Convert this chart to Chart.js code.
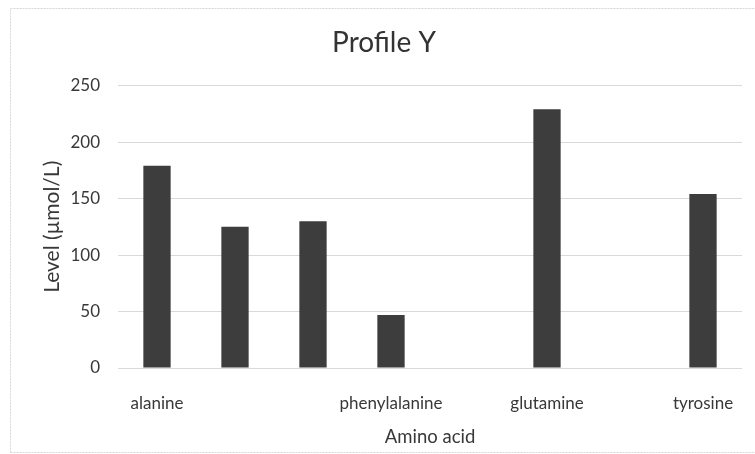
<!DOCTYPE html>
<html>
<head>
<meta charset="utf-8">
<title>Profile Y</title>
<script src="https://cdn.jsdelivr.net/npm/chart.js@4/dist/chart.umd.min.js"></script>
<style>
  html, body { margin: 0; padding: 0; background: #fff; }
  #wrap { position: relative; width: 755px; height: 454px; }
</style>
</head>
<body>
<div id="wrap"><canvas id="profileChart" width="755" height="454"></canvas></div>
<script>
// amino acid levels, blank slots have no label
const aminoAcids = ['alanine', '', '', 'phenylalanine', '', 'glutamine', '', 'tyrosine'];
const levels = [179, 125, 130, 47, null, 229, null, 154];
const yTicks = [0, 50, 100, 150, 200, 250];

const FONT = 'Lato, "Open Sans", sans-serif';

// thin light frame around the whole chart
const chartFrame = {
    id: 'chartFrame',
    beforeDraw: function (chart) {
        const ctx = chart.ctx;
        ctx.save();
        ctx.fillStyle = '#fff';
        ctx.fillRect(0, 0, chart.width, chart.height);
        ctx.strokeStyle = '#d6d6d6';
        ctx.lineWidth = 1;
        ctx.setLineDash([2, 1]);
        ctx.beginPath();
        ctx.moveTo(10.5, chart.height - 1.5);
        ctx.lineTo(10.5, 8.5);
        ctx.lineTo(chart.width, 8.5);
        ctx.moveTo(10.5, chart.height - 1.5);
        ctx.lineTo(chart.width, chart.height - 1.5);
        ctx.stroke();
        ctx.restore();
    }
};

new Chart(document.getElementById('profileChart'), {
    type: 'bar',
    data: {
        labels: aminoAcids,
        datasets: [{
            label: 'Level',
            data: levels,
            backgroundColor: '#3d3d3d',
            borderWidth: 0,
            barPercentage: 0.35,
            categoryPercentage: 1
        }]
    },
    options: {
        responsive: false,
        animation: false,
        devicePixelRatio: 1,
        layout: { padding: { left: 26, right: 13, top: 0, bottom: 6 } },
        plugins: {
            legend: { display: false },
            tooltip: { enabled: false },
            title: {
                display: true,
                text: 'Profile Y',
                color: '#333',
                font: { family: FONT, size: 28, weight: 'normal' },
                padding: { top: 26, bottom: 26 }
            }
        },
        scales: {
            x: {
                grid: { display: false },
                border: { display: false },
                ticks: {
                    color: '#383838',
                    font: { family: FONT, size: 17 },
                    maxRotation: 0,
                    autoSkip: false,
                    padding: 17
                },
                title: {
                    display: true,
                    text: 'Amino acid',
                    color: '#383838',
                    font: { family: FONT, size: 18.5 },
                    padding: 0
                },
                afterFit: function (scale) { scale.height = 80; }
            },
            y: {
                min: 0,
                max: 250,
                afterBuildTicks: function (scale) {
                    scale.ticks = yTicks.map(v => ({ value: v }));
                },
                grid: { color: '#d9d9d9', lineWidth: 1, drawTicks: false },
                border: { display: false },
                ticks: {
                    color: '#383838',
                    font: { family: FONT, size: 17 },
                    padding: 18
                },
                title: {
                    display: true,
                    text: 'Level (\u00b5mol/L)',
                    color: '#383838',
                    font: { family: FONT, size: 21 },
                    padding: { top: 14, bottom: 0 }
                },
                afterFit: function (scale) { scale.width = 92; }
            }
        }
    },
    plugins: [chartFrame]
});
</script>
</body>
</html>
